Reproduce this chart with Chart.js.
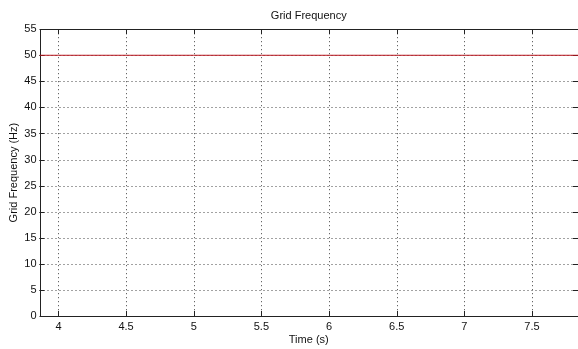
<!DOCTYPE html>
<html>
<head>
<meta charset="utf-8">
<script src="https://cdn.jsdelivr.net/npm/chart.js@4"></script>
<style>
  html, body { margin: 0; padding: 0; background: #fff; }
  #wrap { width: 578px; height: 349px; }
</style>
</head>
<body>
<div id="wrap"><canvas id="freq-chart" width="578" height="349"></canvas></div>
<script>
const timeValues = [3.86, 4, 4.5, 5, 5.5, 6, 6.5, 7, 7.5, 7.84];
const frequencyValues = [50, 50, 50, 50, 50, 50, 50, 50, 50, 50];
const xTickValues = [4, 4.5, 5, 5.5, 6, 6.5, 7, 7.5];
const yTickValues = [0, 5, 10, 15, 20, 25, 30, 35, 40, 45, 50, 55];
const xRange = [3.86, 7.84];
const yRange = [0, 55];

const fontFamily = "'Liberation Sans Narrow', 'Liberation Sans', Arial, sans-serif";

// dotted grid, box frame and inward tick marks, matlab style
const matlabFrame = {
  id: "matlabFrame",
  beforeDatasetsDraw(chart) {
    const { ctx, chartArea } = chart;
    const xScale = chart.scales.x;
    const yScale = chart.scales.y;
    const { left, right, top, bottom } = chartArea;

    ctx.save();
    ctx.lineWidth = 1;
    ctx.strokeStyle = "#444";
    ctx.setLineDash([1, 3]);
    for (const value of xTickValues) {
      const px = Math.round(xScale.getPixelForValue(value)) + 0.5;
      ctx.beginPath();
      ctx.moveTo(px, top);
      ctx.lineTo(px, bottom);
      ctx.stroke();
    }
    for (const value of yTickValues) {
      if (value === yRange[0] || value === yRange[1]) continue;
      const py = Math.round(yScale.getPixelForValue(value)) + 0.5;
      ctx.beginPath();
      ctx.moveTo(left, py);
      ctx.lineTo(right, py);
      ctx.stroke();
    }

    ctx.setLineDash([]);
    ctx.strokeStyle = "#222";
    ctx.strokeRect(Math.round(left) + 0.5, Math.round(top) + 0.5, Math.round(right - left), Math.round(bottom - top));

    const tickLen = 5;
    for (const value of xTickValues) {
      const px = Math.round(xScale.getPixelForValue(value)) + 0.5;
      ctx.beginPath();
      ctx.moveTo(px, bottom);
      ctx.lineTo(px, bottom - tickLen);
      ctx.moveTo(px, top);
      ctx.lineTo(px, top + tickLen);
      ctx.stroke();
    }
    for (const value of yTickValues) {
      const py = Math.round(yScale.getPixelForValue(value)) + 0.5;
      ctx.beginPath();
      ctx.moveTo(left, py);
      ctx.lineTo(left + tickLen, py);
      ctx.moveTo(right, py);
      ctx.lineTo(right - tickLen, py);
      ctx.stroke();
    }
    ctx.restore();
  },
};

new Chart(document.getElementById("freq-chart"), {
  type: "line",
  data: {
    datasets: [
      {
        label: "Grid Frequency",
        data: timeValues.map((t, i) => ({ x: t, y: frequencyValues[i] })),
        borderColor: "#b8141c",
        borderWidth: 1,
        pointRadius: 0,
        tension: 0,
      },
    ],
  },
  options: {
    responsive: false,
    animation: false,
    layout: { padding: { left: 0, right: 0, top: 0, bottom: 0 } },
    plugins: {
      legend: { display: false },
      tooltip: { enabled: false },
      title: {
        display: true,
        fullSize: false,
        text: "Grid Frequency",
        color: "#111",
        font: { family: fontFamily, size: 11, weight: "normal" },
        padding: { top: 9, bottom: 7 },
      },
    },
    scales: {
      x: {
        type: "linear",
        min: xRange[0],
        max: xRange[1],
        afterBuildTicks: (scale) => {
          scale.ticks = xTickValues.map((v) => ({ value: v }));
        },
        afterFit: (scale) => {
          scale.height = 33;
        },
        grid: { display: false, drawTicks: false },
        border: { display: false },
        ticks: {
          color: "#111",
          padding: 4,
          maxRotation: 0,
          autoSkip: false,
          font: { family: fontFamily, size: 11 },
          callback: (value) => String(value),
        },
        title: {
          display: true,
          text: "Time (s)",
          color: "#111",
          padding: { top: 0, bottom: 2 },
          font: { family: fontFamily, size: 11 },
        },
      },
      y: {
        type: "linear",
        min: yRange[0],
        max: yRange[1],
        afterBuildTicks: (scale) => {
          scale.ticks = yTickValues.map((v) => ({ value: v }));
        },
        afterFit: (scale) => {
          scale.width = 39.5;
        },
        grid: { display: false, drawTicks: false },
        border: { display: false },
        ticks: {
          color: "#111",
          padding: 3,
          autoSkip: false,
          font: { family: fontFamily, size: 11 },
          callback: (value) => String(value),
        },
        title: {
          display: true,
          text: "Grid Frequency (Hz)",
          color: "#111",
          padding: { top: 7, bottom: 0 },
          font: { family: fontFamily, size: 11 },
        },
      },
    },
  },
  plugins: [matlabFrame],
});
</script>
</body>
</html>
